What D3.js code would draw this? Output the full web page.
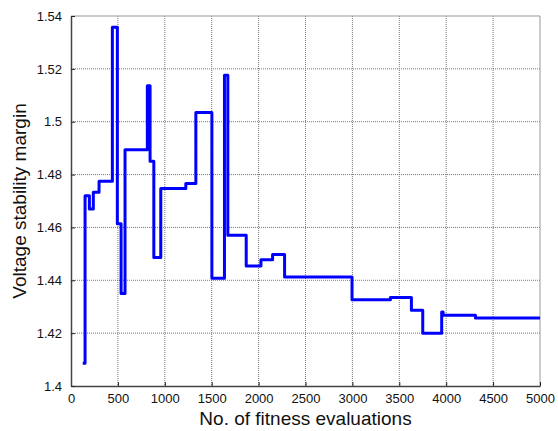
<!DOCTYPE html>
<html>
<head>
<meta charset="utf-8">
<script src="https://cdn.jsdelivr.net/npm/d3@7"></script>
<style>
  body { margin: 0; background: #fff; }
  svg { display: block; font-family: "Liberation Sans", Arial, sans-serif; }
</style>
</head>
<body>
<svg id="chart" width="558" height="431"></svg>
<script>
// step points of the best-so-far curve (evaluations, margin)
const evals = [125, 150, 196, 238, 299, 441, 494, 534, 576, 814, 843, 883, 957, 1224, 1331,
               1502, 1636, 1672, 1868, 2025, 2149, 2277, 2996, 3405, 3629, 3750, 3952, 3967,
               4312, 5000];
const margins = [1.4086, 1.4720, 1.4670, 1.4733, 1.4775, 1.5357, 1.4614, 1.4350, 1.4894, 1.5136,
                 1.4850, 1.4486, 1.4747, 1.4766, 1.5035, 1.4408, 1.5176, 1.4570, 1.4454, 1.4478,
                 1.4498, 1.4412, 1.4326, 1.4335, 1.4287, 1.4200, 1.4280, 1.4268, 1.4257, 1.4257];
const xTicks = [0, 500, 1000, 1500, 2000, 2500, 3000, 3500, 4000, 4500, 5000];
const yTicks = [1.4, 1.42, 1.44, 1.46, 1.48, 1.5, 1.52, 1.54];

const svg = d3.select("#chart");
const margin = {top: 16, right: 18, bottom: 45, left: 71};
const width = 558 - margin.left - margin.right,
      height = 431 - margin.top - margin.bottom;

const g = svg.append("g").attr("transform", "translate(" + margin.left + "," + margin.top + ")");

let x = d3.scaleLinear().domain([0, 5000]).range([0, width]);
let y = d3.scaleLinear().domain([1.4, 1.54]).range([height, 0]);

// grid
g.append("g").selectAll("line").data(xTicks.slice(1, -1)).join("line")
    .attr("x1", d => x(d)).attr("x2", d => x(d))
    .attr("y1", 0).attr("y2", height)
    .attr("stroke", "#777").attr("stroke-width", 1)
    .attr("stroke-dasharray", "1,1");
g.append("g").selectAll("line").data(yTicks.slice(1, -1)).join("line")
    .attr("y1", d => y(d)).attr("y2", d => y(d))
    .attr("x1", 0).attr("x2", width)
    .attr("stroke", "#777").attr("stroke-width", 1)
    .attr("stroke-dasharray", "1,1");

// box (top/right lighter)
g.append("line").attr("x1", 0).attr("x2", width).attr("y1", 0).attr("y2", 0)
    .attr("stroke", "#999").attr("stroke-width", 1);
g.append("line").attr("x1", width).attr("x2", width).attr("y1", 0).attr("y2", height)
    .attr("stroke", "#999").attr("stroke-width", 1);

// axes with inward ticks
let xAxis = g.append("g")
    .attr("transform", "translate(0," + height + ")")
    .call(d3.axisBottom(x).tickValues(xTicks).tickSizeInner(-4).tickSizeOuter(0).tickPadding(8)
        .tickFormat(d3.format("d")));
let yAxis = g.append("g")
    .call(d3.axisLeft(y).tickValues(yTicks).tickSizeInner(-4).tickSizeOuter(0).tickPadding(9)
        .tickFormat(d => String(+d.toFixed(2))));

[xAxis, yAxis].forEach(a => {
    a.select(".domain").attr("stroke", "#444").attr("stroke-width", 1.5);
    a.selectAll(".tick line").attr("stroke", "#222");
    a.selectAll(".tick text").attr("font-size", 13).attr("fill", "#111")
        .attr("font-family", "Liberation Sans, Arial, sans-serif");
});

// step line
let data = evals.map((e, i) => ({e: e, m: margins[i]}));
let line = d3.line()
    .x(d => x(d.e))
    .y(d => y(d.m))
    .curve(d3.curveStepAfter);

g.append("path")
    .datum(data)
    .attr("fill", "none")
    .attr("stroke", "#0000ff")
    .attr("stroke-width", 3)
    .attr("stroke-linejoin", "round")
    .attr("d", line);

// labels
svg.append("text")
    .attr("x", margin.left + width / 2)
    .attr("y", 425)
    .attr("text-anchor", "middle")
    .attr("font-size", 19)
    .attr("fill", "#111")
    .text("No. of fitness evaluations");

svg.append("text")
    .attr("transform", "translate(26," + (margin.top + height / 2) + ") rotate(-90)")
    .attr("text-anchor", "middle")
    .attr("font-size", 19)
    .attr("fill", "#111")
    .text("Voltage stability margin");
</script>
</body>
</html>
